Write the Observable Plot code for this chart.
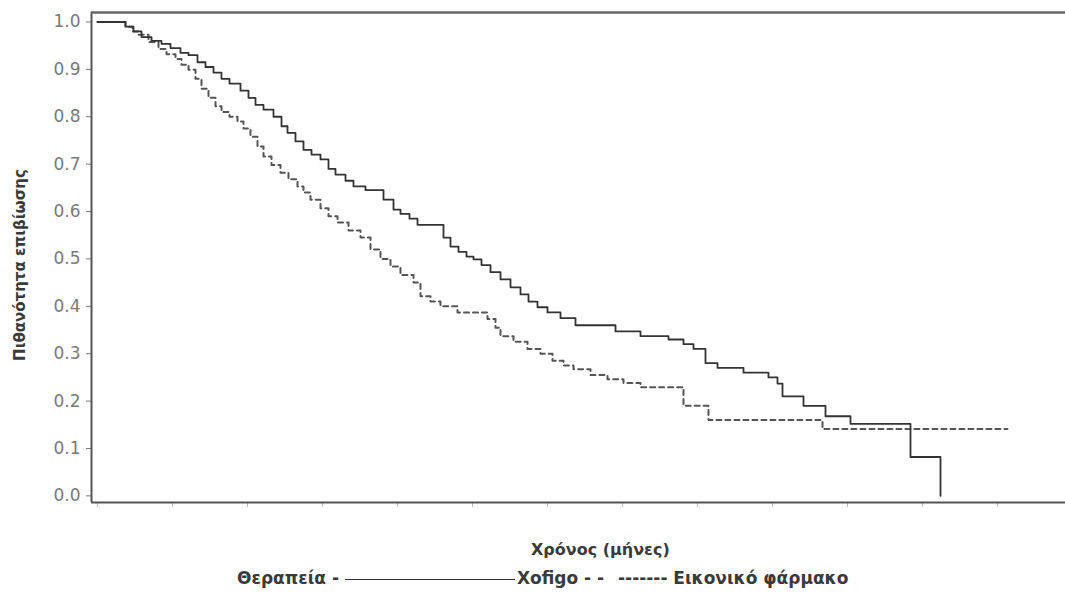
<!DOCTYPE html>
<html>
<head>
<meta charset="utf-8">
<script src="https://cdn.jsdelivr.net/npm/d3@7"></script>
<script src="https://cdn.jsdelivr.net/npm/@observablehq/plot@0.6"></script>
<style>
  body { margin: 0; background: #fff; font-family: "DejaVu Sans", sans-serif; }
  #wrap { position: relative; width: 1065px; height: 595px; }
  .lbl { position: absolute; font-weight: bold; font-size: 16px; line-height: 20px; color: #3a3a3a; white-space: nowrap; }
  .ylbl { position: absolute; font-weight: bold; font-size: 15px; line-height: 18px; color: #3a3a3a; white-space: nowrap;
          left: 20px; top: 265px; transform: translate(-50%, -50%) rotate(-90deg); }
  .solidSample { display: inline-block; width: 170px; border-top: 1.6px solid #333; vertical-align: middle; margin: 0 2px 0 6px; }
</style>
</head>
<body>
<div id="wrap"></div>
<script>
// Kaplan–Meier step points (months, survival probability)
const xofigoMonths = [0, 1.12, 1.44, 1.76, 2.16, 2.56, 2.92, 3.32, 3.64, 4.0, 4.32, 4.64, 4.96, 5.28, 5.72, 6.04, 6.32, 6.64, 7.04, 7.36, 7.6, 7.92, 8.24, 8.56, 8.92, 9.24, 9.52, 9.92, 10.24, 10.72, 11.44, 11.84, 12.12, 12.48, 12.8, 13.84, 14.12, 14.44, 14.76, 15.04, 15.36, 15.72, 16.12, 16.52, 16.92, 17.24, 17.6, 18.0, 18.52, 19.12, 20.72, 21.72, 22.84, 23.44, 23.84, 24.32, 24.8, 25.84, 26.84, 27.2, 27.4, 28.24, 29.12, 30.12, 32.52, 33.72];
const xofigoSurvival = [1.0, 0.99, 0.98, 0.968, 0.96, 0.954, 0.945, 0.935, 0.93, 0.915, 0.905, 0.893, 0.88, 0.87, 0.855, 0.84, 0.825, 0.815, 0.8, 0.78, 0.766, 0.748, 0.73, 0.72, 0.71, 0.69, 0.678, 0.665, 0.653, 0.645, 0.625, 0.604, 0.595, 0.585, 0.572, 0.545, 0.526, 0.515, 0.505, 0.499, 0.487, 0.472, 0.457, 0.44, 0.425, 0.41, 0.398, 0.387, 0.375, 0.36, 0.347, 0.337, 0.33, 0.32, 0.31, 0.28, 0.27, 0.26, 0.25, 0.237, 0.21, 0.19, 0.168, 0.152, 0.082, 0.0];

const placeboMonths = [0, 1.12, 1.4, 1.64, 2.04, 2.44, 2.76, 3.12, 3.36, 3.64, 3.92, 4.16, 4.44, 4.72, 4.96, 5.28, 5.6, 5.84, 6.12, 6.4, 6.64, 6.96, 7.32, 7.64, 8.0, 8.24, 8.52, 8.92, 9.24, 9.6, 10.04, 10.52, 10.92, 11.32, 11.72, 12.12, 12.64, 12.92, 13.32, 13.72, 14.4, 15.6, 15.92, 16.12, 16.64, 17.2, 17.72, 18.2, 18.64, 19.04, 19.72, 20.4, 21.04, 21.72, 23.44, 24.44, 29.0, 36.4];
const placeboSurvival = [1.0, 0.99, 0.98, 0.973, 0.958, 0.943, 0.932, 0.922, 0.91, 0.899, 0.88, 0.859, 0.84, 0.822, 0.81, 0.8, 0.79, 0.775, 0.758, 0.737, 0.716, 0.698, 0.682, 0.668, 0.653, 0.64, 0.625, 0.607, 0.59, 0.577, 0.56, 0.545, 0.52, 0.5, 0.484, 0.466, 0.45, 0.421, 0.41, 0.4, 0.387, 0.373, 0.355, 0.337, 0.325, 0.31, 0.3, 0.285, 0.275, 0.267, 0.255, 0.246, 0.238, 0.229, 0.19, 0.16, 0.141, 0.141];

const yTicks = [0, 0.1, 0.2, 0.3, 0.4, 0.5, 0.6, 0.7, 0.8, 0.9, 1.0];
const xTicks = [0, 3, 6, 9, 12, 15, 18, 21, 24, 27, 30, 33, 36];

const yLabel = "Πιθανότητα επιβίωσης";
const xLabel = "Χρόνος (μήνες)";
const legendPrefix = "Θεραπεία -";
const legendXofigo = "Xofigo - -";
const legendPlacebo = "------- Εικονικό φάρμακο";

const xofigo = xofigoMonths.map((t, i) => ({t, s: xofigoSurvival[i]}));
const placebo = placeboMonths.map((t, i) => ({t, s: placeboSurvival[i]}));

const xDomain = [-0.24, 38.72];
const yDomain = [-0.014, 1.02];

const chart = Plot.plot({
  width: 1065,
  height: 510,
  marginLeft: 91,
  marginRight: 0,
  marginTop: 12,
  marginBottom: 8,
  style: {fontFamily: "DejaVu Sans, sans-serif", background: "transparent"},
  x: {domain: xDomain},
  y: {domain: yDomain},
  marks: [
    Plot.axisY(yTicks, {tickFormat: d3.format(".1f"), tickSize: 5, tickPadding: 6, fontSize: 17, color: "#7a7a7a", label: null}),
    Plot.axisX(xTicks, {tickFormat: () => "", tickSize: 5, stroke: "#bbb", label: null}),
    Plot.ruleX([xDomain[0]], {stroke: "#555", strokeWidth: 2}),
    Plot.ruleY([yDomain[1]], {stroke: "#666", strokeWidth: 2.5}),
    Plot.ruleY([yDomain[0]], {stroke: "#555", strokeWidth: 2}),
    Plot.line(placebo, {x: "t", y: "s", curve: "step-after", stroke: "#555", strokeWidth: 2, strokeDasharray: "5,4"}),
    Plot.line(xofigo, {x: "t", y: "s", curve: "step-after", stroke: "#333", strokeWidth: 1.8})
  ]
});

const wrap = document.getElementById("wrap");
wrap.appendChild(chart);

const yl = document.createElement("div");
yl.className = "ylbl";
yl.textContent = yLabel;
wrap.appendChild(yl);

const xl = document.createElement("div");
xl.className = "lbl";
xl.textContent = xLabel;
xl.style.left = "531px";
xl.style.top = "540px";
wrap.appendChild(xl);

const lg = document.createElement("div");
lg.className = "lbl";
lg.style.left = "237px";
lg.style.top = "568px";
lg.style.fontSize = "17px";
const p1 = document.createElement("span"); p1.textContent = legendPrefix;
const ln = document.createElement("span"); ln.className = "solidSample";
const p2 = document.createElement("span"); p2.textContent = legendXofigo + "  ";
const p3 = document.createElement("span"); p3.textContent = legendPlacebo;
p3.style.marginLeft = "8px";
lg.append(p1, ln, p2, p3);
wrap.appendChild(lg);
</script>
</body>
</html>
